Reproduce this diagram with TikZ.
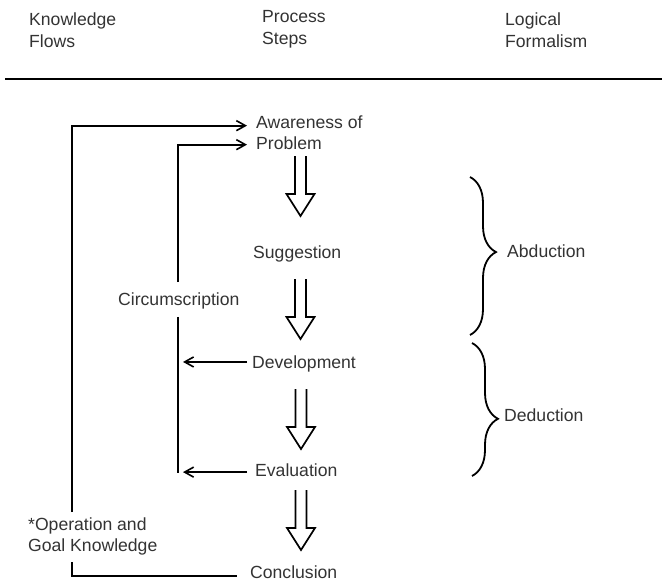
\documentclass[tikz,border=0pt]{standalone}
\usepackage{fontspec}
\setmainfont{Liberation Sans}
\usetikzlibrary{arrows.meta,calc,decorations.pathreplacing}

\definecolor{ink}{gray}{0.2}

\tikzset{
  bodytext/.style={inner sep=0pt, anchor=base west, text=ink,
    font={\fontsize{17.6}{21}\selectfont}},
  twoline/.style={bodytext, anchor=north west, align=left},
  headtext/.style={twoline, font={\fontsize{17.6}{22}\selectfont}},
  flow/.style={line width=1.8pt, draw=black},
  flowarrow/.style={flow, -{Straight Barb[length=9pt,width=10pt,line width=1.6pt]}},
  bracemark/.style={line width=1.8pt, decorate,
    decoration={brace, amplitude=26pt, aspect=#1}},
  hollowstep/.style={line width=1.7pt, line join=miter},
  pics/downstep/.style={code={
    \draw[hollowstep] (-5.5,0) -- (-5.5,38) -- (-14,38) -- (0,60)
                      -- (14,38) -- (5.5,38) -- (5.5,0);
  }}
}

\begin{document}
\begin{tikzpicture}[x=1pt,y=-1pt]
  \useasboundingbox (0,0) rectangle (662,581);

  % column headings and rule
  \node[headtext] (hk) at (29,12.9)  {Knowledge\\Flows};
  \node[headtext] (hp) at (262,9.9)  {Process\\Steps};
  \node[headtext] (hl) at (505,12.9) {Logical\\Formalism};
  \coordinate (ruleL) at (5,79);
  \coordinate (ruleR) at (662,79);
  \draw[line width=2.2pt] (ruleL) -- (ruleR);

  % process steps
  \node[twoline]  (aware) at (256,115.5) {Awareness of\\Problem};
  \node[bodytext] (sugg)  at (253,258)   {Suggestion};
  \node[bodytext] (dev)   at (252,368)   {Development};
  \node[bodytext] (eval)  at (255,476)   {Evaluation};
  \node[bodytext] (conc)  at (250,578)   {Conclusion};

  % knowledge flow labels
  \node[bodytext] (circ) at (118,305) {Circumscription};
  \node[twoline]  (ops)  at (28,518)  {*Operation and\\Goal Knowledge};

  % logical formalism labels
  \node[bodytext] (abd) at (507,257) {Abduction};
  \node[bodytext] (ded) at (504,421) {Deduction};

  % hollow arrows between the steps
  \pic at (300.5,156) {downstep};
  \pic at (300.5,279) {downstep};
  \pic at (301,389)   {downstep};
  \pic at (301,490)   {downstep};

  % braces
  \coordinate (abdTop) at (470,177);
  \coordinate (abdBot) at (470,335);
  \coordinate (dedTop) at (472,343);
  \coordinate (dedBot) at (472,476);
  \draw[bracemark=0.475] (abdTop) -- (abdBot);
  \draw[bracemark=0.57]  (dedTop) -- (dedBot);

  % vertical lines of the knowledge flows
  \coordinate (ox) at (72,0);
  \coordinate (ix) at (178,0);

  % outer loop: conclusion back to awareness
  \draw[flow] ($(ops.south -| ox)+(0,6.5)$) |- ($(conc.west)+(-13,4.4)$);
  \draw[flowarrow] ($(ops.north -| ox)+(0,-6)$) |- ($(aware.west)+(-9,-7)$);

  % inner loop: circumscription
  \draw[flowarrow] ($(circ.north -| ix)+(0,-10)$) |- ($(aware.west)+(-9,12)$);
  \draw[flow] ($(circ.south -| ix)+(0,8)$) -- ($(eval.west -| ix)+(0,3.5)$);
  \draw[flowarrow] ($(dev.west)+(-5,-1.5)$) -- ($(dev.west -| ix)+(5,-1.5)$);
  \draw[flowarrow] ($(eval.west)+(-8,2.4)$) -- ($(eval.west -| ix)+(5,2.4)$);
\end{tikzpicture}
\end{document}
